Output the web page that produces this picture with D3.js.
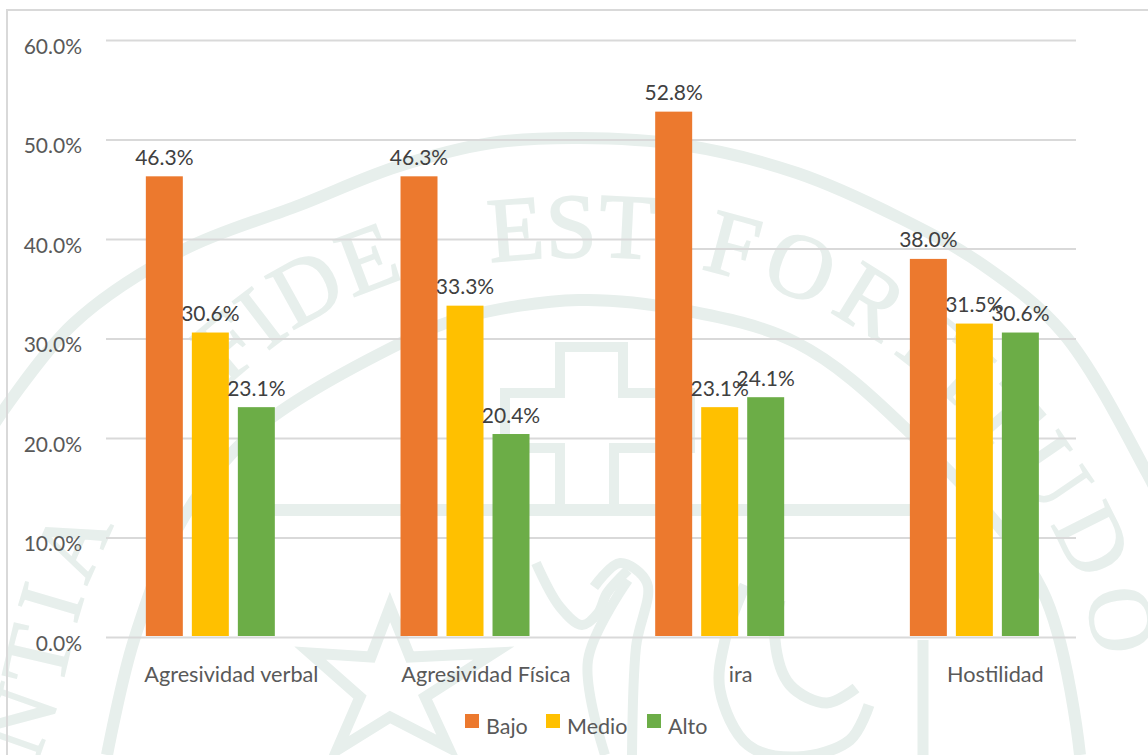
<!DOCTYPE html>
<html><head><meta charset="utf-8">
<script src="https://cdn.jsdelivr.net/npm/d3@7"></script>
<style>
html,body{margin:0;padding:0;background:#fff;overflow:hidden}
svg{display:block}
text{font-family:Lato,"Open Sans",sans-serif}
</style></head><body><svg id="c" width="1148" height="755"></svg>
<script>
const categories = ["Agresividad verbal","Agresividad Física","ira","Hostilidad"];
const seriesNames = ["Bajo","Medio","Alto"];
const bajo  = [46.3,46.3,52.8,38.0];
const medio = [30.6,33.3,23.1,31.5];
const alto  = [23.1,20.4,24.1,30.6];
const yTicks = [0,10,20,30,40,50,60];
const colors = ["#EC792E","#FFC000","#6CAD47"];
const seriesValues = [bajo,medio,alto];
const sealWords = ["NTIA","FIDE","EST","FORTITUDO"];
const WM = "#e7efec";

const svg = d3.select("#c");
const line = d3.line().curve(d3.curveCatmullRom.alpha(0.5));

// watermark seal behind the chart
const wm = svg.append("g").attr("fill","none").attr("stroke",WM);
const outerRing = [[-10,430],[73,324],[183,250],[300,205],[396,167],[491,143],[579,138],[683,145],[797,173],[900,218],[983,265],[1063,333],[1147,473],[1170,520]];
const innerRing = [[107,755],[134,640],[184,517],[256,430],[403,342],[465,317],[579,300],[683,310],[797,343],[904,427],[1042,590],[1080,755]];
wm.append("path").attr("d",line(outerRing)).attr("stroke-width",12);
wm.append("path").attr("d",line(innerRing)).attr("stroke-width",12);
wm.append("path").attr("d","M272,510H910").attr("stroke-width",12);
wm.append("path").attr("d","M560,504V448H505V393H560V347H623V393H690V448H614V504").attr("stroke-width",10);
wm.append("path").attr("d","M390,607L410,657L494,653L425,697L448,747L390,717L337,750L360,697L310,653L371,657Z").attr("stroke-width",11);
wm.append("path").attr("d",line([[745,585],[725,640],[720,690],[748,745],[797,757],[850,740],[869,705]])).attr("stroke-width",11);
wm.append("path").attr("d",line([[780,600],[775,640],[790,685],[827,703],[856,688]])).attr("stroke-width",11);
wm.append("path").attr("d","M923,640V755").attr("stroke-width",11);
wm.append("path").attr("d",line([[536,563],[560,607],[582,625],[598,613],[607,593],[628,570]])).attr("stroke-width",10);
wm.append("path").attr("d",line([[594,587],[620,563],[647,583],[636,647],[632,755]])).attr("stroke-width",10);
wm.append("path").attr("d",line([[628,580],[588,660],[605,755]])).attr("stroke-width",10);

const baseline = [[20,800],[52,720],[92,575],[160,450],[245,370],[311,320],[400,280],[495,262],[633,258],[705,270],[809,303],[885,347],[970,420],[1040,510],[1085,600],[1097,680],[1100,760]];
const arcPath = svg.append("defs").append("path").attr("id","arc").attr("d",line(baseline));
const arcNode = arcPath.node();
const arcLen = arcNode.getTotalLength();
// word start along the arc, given by the x at which it begins in the picture
const offsetAtX = tx => {
  let lo=0, hi=arcLen;
  for(let i=0;i<30;i++){const m=(lo+hi)/2; if(arcNode.getPointAtLength(m).x<tx) lo=m; else hi=m;}
  return lo;
};
const sealStartX = [36,226,490,700];
const sealSpacing = [10,2,0,9];
sealWords.forEach((w,i)=>{
  svg.append("text").attr("fill",WM).attr("stroke",WM).attr("stroke-width",1.6)
    .style("font-family","'Liberation Serif',serif").attr("font-size",92).attr("letter-spacing",sealSpacing[i])
    .append("textPath").attr("href","#arc").attr("startOffset",offsetAtX(sealStartX[i])).text(w);
});

// frame
const frame = svg.append("g").attr("stroke","#d9d9d9").attr("stroke-width",2);
frame.append("line").attr("x1",6).attr("x2",1148).attr("y1",10).attr("y2",10);
frame.append("line").attr("x1",7).attr("x2",7).attr("y1",10).attr("y2",755);

const left=106, right=1076, gridTop=40, gridBottom=637;
const y = d3.scaleLinear().domain([0,60]).range([gridBottom,gridTop]);
const x0 = d3.scaleBand().domain(categories).range([left,left+1018.7]);
const x1 = d3.scaleBand().domain([...seriesNames,"_"]).range([0,x0.step()]).paddingInner(0.196).paddingOuter(0.866);

// y axis + grid
const yAxis = svg.append("g").attr("transform",`translate(${left},0)`)
  .call(d3.axisLeft(y).tickValues(yTicks).tickSize(-(right-left)).tickFormat(d=>d.toFixed(1)+"%"));
yAxis.select(".domain").remove();
yAxis.selectAll("line").attr("stroke","#d9d9d9").attr("stroke-width",2);
yAxis.selectAll("text").attr("x",-24).attr("y",13).attr("dy",0).attr("fill","#595959").attr("font-size",21).style("font-family","Lato,sans-serif");

// the 40% grid line is broken in the source picture: its right part sits lower
const splitX = x0("ira")+x1("Bajo");
yAxis.selectAll(".tick").filter(d=>d===40).select("line").attr("x2",splitX-left);
svg.append("line").attr("x1",splitX+x1.bandwidth()-1).attr("x2",right)
  .attr("y1",y(39)).attr("y2",y(39)).attr("stroke","#d9d9d9").attr("stroke-width",2);

// x axis labels
const xAxis = svg.append("g").attr("transform",`translate(0,${gridBottom})`)
  .call(d3.axisBottom(x0).tickSize(0));
xAxis.select(".domain").remove();
xAxis.selectAll("text").attr("y",45).attr("dy",0).attr("dx",-2).attr("fill","#595959").attr("font-size",21.7).style("font-family","Lato,sans-serif");

// bars + labels
seriesNames.forEach((s,i)=>{
  const g = svg.append("g");
  g.selectAll("rect").data(seriesValues[i]).join("rect")
    .attr("x",(d,j)=>x0(categories[j])+x1(s))
    .attr("width",x1.bandwidth())
    .attr("y",d=>y(d))
    .attr("height",d=>y(0)-y(d)-1)
    .attr("fill",colors[i]);
  g.selectAll("text").data(seriesValues[i]).join("text")
    .attr("x",(d,j)=>x0(categories[j])+x1(s)+x1.bandwidth()/2)
    .attr("y",d=>y(d)-11.5)
    .attr("text-anchor","middle").attr("fill","#404040").attr("font-size",21)
    .text(d=>d.toFixed(1)+"%");
});

// legend
const legendSwatchX = d3.scaleOrdinal().domain(seriesNames).range([465,546,647]);
const leg = svg.append("g").selectAll("g").data(seriesNames).join("g")
  .attr("transform",d=>`translate(${legendSwatchX(d)},714)`);
leg.append("rect").attr("width",14).attr("height",14).attr("fill",(d,i)=>colors[i]);
leg.append("text").attr("x",21).attr("y",20).attr("fill","#595959").attr("font-size",21.5).text(d=>d);
</script></body></html>
